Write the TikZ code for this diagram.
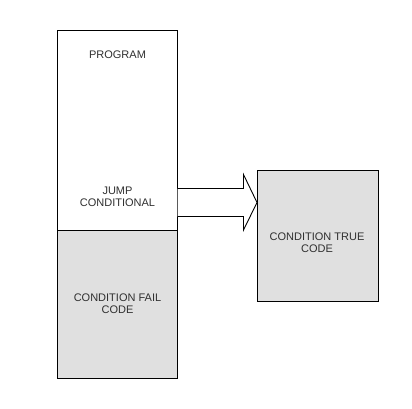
\documentclass[tikz,border=0pt]{standalone}
\usepackage{fontspec}
\setmainfont{Liberation Sans}
\definecolor{boxgray}{HTML}{E0E0E0}
\definecolor{txt}{HTML}{303030}
\begin{document}
\begin{tikzpicture}[x=1pt,y=-1pt,
  lbl/.style={font=\fontsize{11}{12}\selectfont, text=txt, align=center, inner sep=0pt},
  boxline/.style={draw=black, line width=0.9pt}]
\useasboundingbox (0,0) rectangle (412,408);
% left column
\fill[white] (57.5,30) rectangle (177.5,230.5);
\fill[boxgray] (57.5,230.5) rectangle (177.5,378);
\draw[boxline] (57.5,30) rectangle (177.5,378);
\draw[boxline] (57.5,230.5) -- (177.5,230.5);
% right box
\node[boxline, fill=boxgray, minimum width=120.5pt, minimum height=131pt, anchor=north west, inner sep=0pt] (truebox) at (257,170) {};
% arrow
\coordinate (a1) at (177.5,188.5);
\coordinate (a7) at (177.5,216.5);
\draw[line width=0.9pt, fill=white, line join=miter] (a1) -- (243.5,188.5) -- (243.5,174.5) -- (257,202.5) -- (243.5,230) -- (243.5,216.5) -- (a7);
% labels
\node[lbl] (prog) at (117.5,54.5) {PROGRAM};
\node[lbl] (jump) at (117.5,196.5) {JUMP\\CONDITIONAL};
\node[lbl] (fail) at (117.5,304) {CONDITION FAIL\\CODE};
\node[lbl] (truel) at (317,242.5) {CONDITION TRUE\\CODE};
\end{tikzpicture}
\end{document}
